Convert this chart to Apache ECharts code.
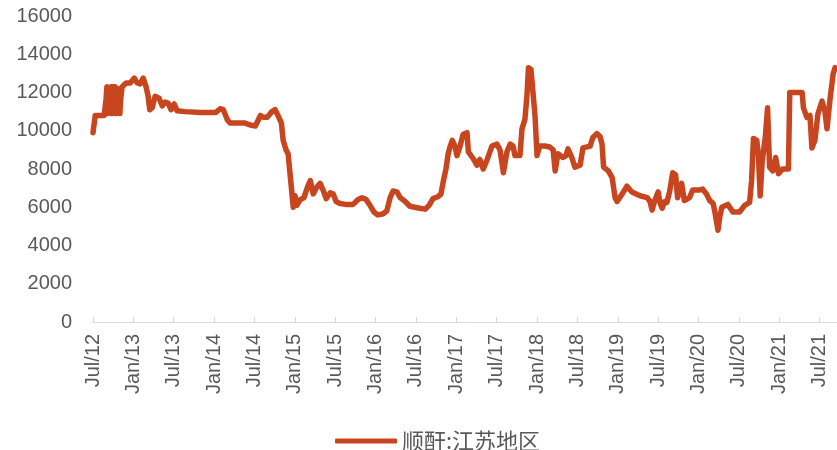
<!DOCTYPE html>
<html>
<head>
<meta charset="utf-8">
<script src="https://cdn.jsdelivr.net/npm/echarts@6/dist/echarts.min.js"></script>
<style>html,body{margin:0;padding:0;background:#fff;}#c{width:837px;height:450px;}</style>
</head>
<body>
<div id="c"></div>
<script>
var seriesName = '顺酐:江苏地区';
var tickLabels = ['Jul/12','Jan/13','Jul/13','Jan/14','Jul/14','Jan/15','Jul/15','Jan/16','Jul/16','Jan/17','Jul/17','Jan/18','Jul/18','Jan/19','Jul/19','Jan/20','Jul/20','Jan/21','Jul/21','Jan/22'];
var dates = [
'2012-07-01','2012-07-07','2012-07-11','2012-08-21','2012-08-30','2012-09-03','2012-09-08','2012-09-13','2012-09-17','2012-09-22',
'2012-09-27','2012-10-01','2012-10-05','2012-10-10','2012-10-15','2012-10-19','2012-10-24','2012-10-28','2012-11-01','2012-11-04',
'2012-11-11','2012-11-29','2012-12-17','2013-01-05','2013-01-18','2013-02-01','2013-02-15',
'2013-02-28','2013-03-07','2013-03-14','2013-03-25','2013-04-08','2013-04-26','2013-05-10','2013-05-23','2013-06-06','2013-06-19',
'2013-07-03','2013-07-16','2013-08-22','2013-10-30','2014-01-07','2014-01-28','2014-02-12','2014-03-01','2014-03-13','2014-05-19',
'2014-06-12','2014-07-05','2014-07-28','2014-08-10','2014-08-28','2014-09-19','2014-10-03','2014-10-16','2014-11-01','2014-11-09',
'2014-11-22','2014-12-01','2014-12-10','2014-12-16','2014-12-24','2015-01-02','2015-01-10','2015-01-25','2015-02-12','2015-02-26',
'2015-03-10','2015-03-23','2015-04-06','2015-04-24','2015-05-07','2015-05-21','2015-06-09','2015-06-22','2015-07-05','2015-07-23',
'2015-08-19','2015-09-21','2015-10-13','2015-11-01','2015-11-19','2015-12-06','2015-12-24','2016-01-10','2016-02-03','2016-02-21',
'2016-03-06','2016-03-19','2016-04-06','2016-04-21','2016-05-13','2016-06-04','2016-06-26','2016-07-18','2016-08-12','2016-08-30',
'2016-09-17','2016-10-09','2016-10-23','2016-11-02','2016-11-15','2016-11-25','2016-12-04','2016-12-13','2016-12-25','2017-01-04',
'2017-01-18','2017-02-01','2017-02-19','2017-02-25','2017-03-16','2017-04-03','2017-04-16','2017-05-01','2017-05-19','2017-06-10',
'2017-07-02','2017-07-16','2017-08-01','2017-08-17','2017-09-01','2017-09-14','2017-09-23','2017-10-15','2017-10-24','2017-11-07',
'2017-11-16','2017-11-23','2017-12-04','2017-12-13','2017-12-22','2018-01-01','2018-01-13','2018-02-06','2018-02-28','2018-03-13',
'2018-03-22','2018-04-04','2018-04-27','2018-05-10','2018-05-19','2018-06-06','2018-06-20','2018-07-13','2018-07-26','2018-08-28',
'2018-09-10','2018-09-28','2018-10-12','2018-10-21','2018-10-28','2018-11-19','2018-12-06','2018-12-19','2018-12-28','2019-01-21',
'2019-02-12','2019-03-04','2019-04-10','2019-05-12','2019-05-25','2019-06-04','2019-06-16','2019-07-01','2019-07-10','2019-07-19',
'2019-07-31','2019-08-10','2019-08-22','2019-09-06','2019-09-19','2019-09-28','2019-10-16','2019-10-28','2019-11-21','2019-12-05',
'2020-01-07','2020-01-19','2020-02-06','2020-02-21','2020-03-06','2020-03-15','2020-03-28','2020-04-06','2020-04-15','2020-05-12',
'2020-06-04','2020-07-04','2020-07-27','2020-08-19','2020-08-28','2020-09-06','2020-09-21','2020-09-28','2020-10-06','2020-10-15',
'2020-10-29','2020-11-09','2020-11-18','2020-12-02','2020-12-15','2020-12-28','2021-01-16','2021-02-12','2021-02-18','2021-04-13',
'2021-04-19','2021-05-04','2021-05-18','2021-05-27','2021-06-10','2021-06-24','2021-07-12','2021-07-25','2021-08-04','2021-08-18',
'2021-09-01','2021-09-10'
];
var prices = [
9900,10000,10800,10800,11700,12300,10900,12200,11000,12300,
10900,12300,11000,12300,10900,12200,11000,12200,10900,11600,
12300,12500,12500,12750,12500,12450,12750,
12300,11800,11100,11200,11800,11700,11300,11500,11450,11100,
11400,11050,11000,10950,10950,11150,11100,10550,10400,10400,
10300,10250,10800,10700,10700,11000,11100,10800,10400,9500,
9000,8800,8700,7000,6000,6600,6100,6400,6500,7000,
7400,6700,7000,7250,6900,6450,6750,6700,6300,6200,
6150,6150,6400,6500,6400,6100,5750,5600,5650,5800,
6500,6850,6800,6500,6300,6050,6000,5950,5900,6100,
6450,6550,6700,7300,8000,8800,9200,9500,9200,8700,
9200,9800,9900,8900,8550,8200,8500,8000,8500,9200,
9300,9000,7800,8900,9300,9200,8700,8700,10100,10600,
11800,13300,13200,13100,10800,8700,9200,9200,9150,9000,
7900,8800,8600,8700,9050,8600,8100,8200,9100,9200,
9650,9850,9700,9300,8100,7900,7550,6500,6300,6700,
7100,6800,6600,6500,6300,5850,6350,6800,6200,5950,
6300,6250,6800,7800,7700,6500,7250,6350,6500,6900,
6900,6950,6700,6350,6200,5700,4800,5500,6000,6150,
5750,5750,6100,6250,7400,9600,9500,8800,6600,8400,
9650,11200,8100,7900,8600,7750,8000,8000,12000,12000,
11200,10700,10800,9100,9500,10900,11550,11000,10100,11700,
12950,13300
];

// months elapsed since 2012-07-01 (x-axis scale unit)
function monthsSince(d) {
  var p = d.split('-');
  return (+p[0] - 2012) * 12 + (+p[1] - 7) + (+p[2] - 1) / 30.4;
}
var points = dates.map(function (d, i) { return [monthsSince(d), prices[i]]; });

var chart = echarts.init(document.getElementById('c'), null, {renderer: 'canvas'});
var gray = '#595959';
chart.setOption({
  animation: false,
  backgroundColor: '#ffffff',
  grid: {left: 93, right: -23, top: 16, bottom: 128, containLabel: false, outerBoundsMode: 'none'},
  xAxis: {
    type: 'value',
    min: 0, max: 114, interval: 6,
    axisLine: {show: true, lineStyle: {color: '#d9d9d9', width: 1}},
    axisTick: {show: true, inside: true, length: 5, lineStyle: {color: '#d9d9d9'}},
    splitLine: {show: false},
    axisLabel: {
      rotate: 90, margin: 12, color: gray,
      fontFamily: 'Liberation Sans', fontSize: 20,
      formatter: function (v) {
        var i = Math.round(v / 6);
        return Math.abs(v - i * 6) < 1e-6 ? (tickLabels[i] || '') : '';
      }
    }
  },
  yAxis: {
    type: 'value',
    min: 0, max: 16000, interval: 2000,
    axisLine: {show: false},
    axisTick: {show: false},
    splitLine: {show: false},
    axisLabel: {margin: 21, color: gray, fontFamily: 'Liberation Sans', fontSize: 20,
      formatter: function (v) { return String(v); }}
  },
  legend: {
    left: 330, top: 425,
    icon: 'roundRect', itemWidth: 62, itemHeight: 5, itemGap: 10,
    textStyle: {color: gray, fontFamily: 'Noto Sans CJK SC', fontSize: 22, padding: [0,0,0,0]},
    data: [seriesName]
  },
  series: [{
    name: seriesName,
    type: 'line',
    data: points,
    showSymbol: false,
    symbol: 'none',
    color: '#C8461F',
    lineStyle: {width: 5.5, color: '#C8461F', join: 'round', cap: 'round'}
  }]
});
</script>
</body>
</html>
